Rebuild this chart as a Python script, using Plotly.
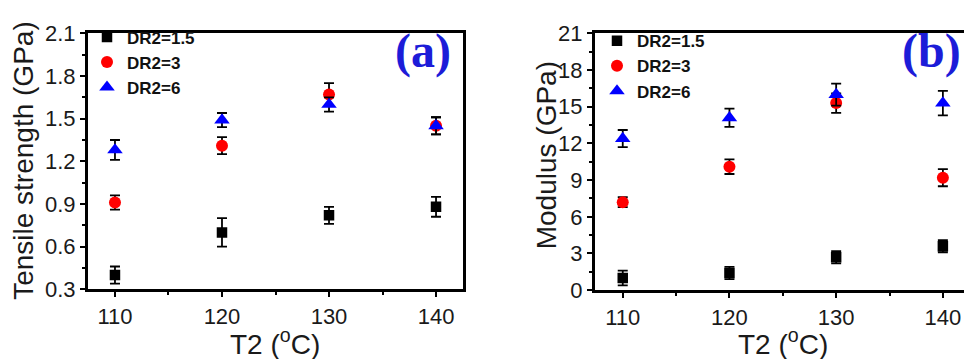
import plotly.graph_objects as go

# ---- data ----
T2 = [110, 120, 130, 140]
series_names = ["DR2=1.5", "DR2=3", "DR2=6"]
colors = ["#000000", "#ff0000", "#0000ff"]
symbols = ["square", "circle", "triangle-up"]
sizes = [10.5, 12, 13.5]

strength_dr15 = [0.40, 0.70, 0.82, 0.88]
strength_dr15_err = [0.06, 0.10, 0.06, 0.07]
strength_dr3 = [0.91, 1.31, 1.67, 1.45]
strength_dr3_err = [0.05, 0.06, 0.08, 0.06]
strength_dr6 = [1.28, 1.49, 1.60, 1.45]
strength_dr6_err = [0.07, 0.05, 0.05, 0.06]

modulus_dr15 = [1.0, 1.4, 2.7, 3.6]
modulus_dr15_err = [0.6, 0.5, 0.5, 0.5]
modulus_dr3 = [7.2, 10.1, 15.3, 9.2]
modulus_dr3_err = [0.4, 0.6, 0.8, 0.7]
modulus_dr6 = [12.4, 14.1, 16.0, 15.3]
modulus_dr6_err = [0.7, 0.75, 0.9, 1.0]

W, H = 964, 359
fig = go.Figure()

panels = [
    ("x", "y", "legend", [strength_dr15, strength_dr3, strength_dr6],
     [strength_dr15_err, strength_dr3_err, strength_dr6_err]),
    ("x2", "y2", "legend2", [modulus_dr15, modulus_dr3, modulus_dr6],
     [modulus_dr15_err, modulus_dr3_err, modulus_dr6_err]),
]
for xa, ya, lg, vals, errs in panels:
    for i in range(3):
        fig.add_trace(go.Scatter(
            x=T2, y=vals[i], mode="markers", name=series_names[i],
            xaxis=xa, yaxis=ya, legend=lg,
            marker=dict(symbol=symbols[i], size=sizes[i], color=colors[i],
                        line=dict(width=0)),
            error_y=dict(type="data", array=errs[i], visible=True,
                         color="black", thickness=1.8, width=5),
        ))

tickfont = dict(family="Liberation Sans, Arial", size=22, color="#1a1a1a")
axcommon = dict(showline=True, linewidth=3, linecolor="black", showgrid=False,
                zeroline=False, ticks="outside", ticklen=5, tickwidth=2,
                tickcolor="black", tickfont=tickfont)

def px_x(p):
    return p / W

def px_y(p):
    return 1 - p / H

legfont = dict(family="Liberation Sans, Arial", size=17, color="#111",
               weight="bold")

fig.update_layout(
    width=W, height=H, margin=dict(l=0, r=0, t=0, b=0),
    paper_bgcolor="white", plot_bgcolor="white",
    showlegend=True,
    xaxis=dict(domain=[px_x(88), px_x(463)], range=[107.48, 142.52],
               tickvals=[110, 120, 130, 140], mirror=True, anchor="y",
               minor=dict(dtick=5, tick0=105, ticks="outside", ticklen=3,
                          tickwidth=2, tickcolor="black"),
               **axcommon),
    yaxis=dict(domain=[px_y(298), px_y(23)], range=[0.3, 2.1],
               dtick=0.3, tick0=0.3, tickformat=".1f", mirror=True, anchor="x",
               minor=dict(dtick=0.15, tick0=0.3, ticks="outside", ticklen=3,
                          tickwidth=2, tickcolor="black"),
               **axcommon),
    xaxis2=dict(domain=[px_x(595), 1.0], range=[107.4, 141.98],
                tickvals=[110, 120, 130, 140], mirror=True, anchor="y2",
                minor=dict(dtick=5, tick0=105, ticks="outside", ticklen=3,
                           tickwidth=2, tickcolor="black"),
                **axcommon),
    yaxis2=dict(domain=[px_y(299), px_y(23)], range=[0, 21],
                dtick=3, tick0=0, mirror=False, anchor="x2",
                minor=dict(dtick=1.5, tick0=0, ticks="outside", ticklen=3,
                           tickwidth=2, tickcolor="black"),
                **axcommon),
    legend=dict(x=px_x(87), y=px_y(8), xanchor="left", yanchor="top",
                bgcolor="rgba(0,0,0,0)", borderwidth=0, font=legfont,
                itemclick=False, tracegroupgap=0),
    legend2=dict(x=px_x(597), y=px_y(12), xanchor="left", yanchor="top",
                 bgcolor="rgba(0,0,0,0)", borderwidth=0, font=legfont,
                 itemclick=False, tracegroupgap=0),
)

titlefont = dict(family="Liberation Sans, Arial", size=28, color="#1a1a1a")
labelfont = dict(family="Liberation Serif, Times New Roman", size=48,
                 color="#1c1cd8", weight="bold")
ann = [
    dict(text="Tensile strength (GPa)", x=px_x(24), y=px_y(160),
         textangle=-90, font=titlefont),
    dict(text="Modulus (GPa)", x=px_x(546), y=px_y(154),
         textangle=-90, font=titlefont),
    dict(text="T2 (<sup>o</sup>C)", x=px_x(275), y=px_y(355), font=titlefont),
    dict(text="T2 (<sup>o</sup>C)", x=px_x(783), y=px_y(355), font=titlefont),
    dict(text="(a)", x=px_x(423), y=px_y(42), font=labelfont),
    dict(text="(b)", x=px_x(931), y=px_y(42), font=labelfont),
]
for a in ann:
    fig.add_annotation(xref="paper", yref="paper", showarrow=False,
                       xanchor="center", yanchor="middle", **a)

fig.write_html("out.html")
